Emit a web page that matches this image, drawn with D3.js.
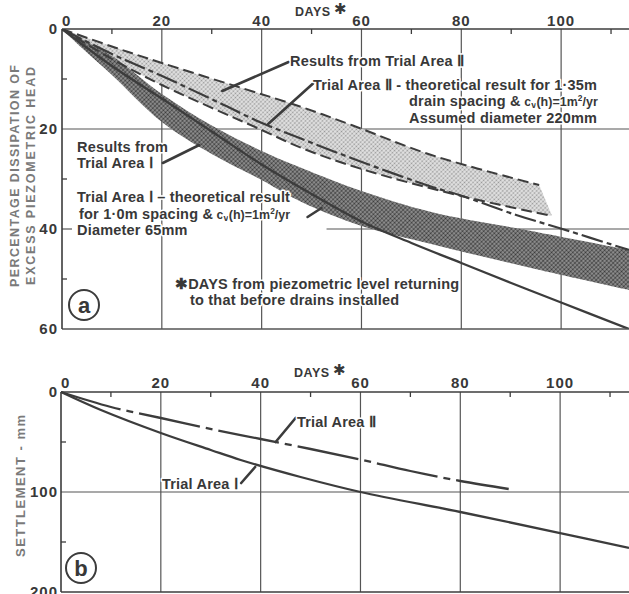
<!DOCTYPE html>
<html>
<head>
<meta charset="utf-8">
<script src="https://cdn.jsdelivr.net/npm/d3@7"></script>
<style>
  body { margin: 0; background: #fff; }
  svg { display: block; }
  text { font-family: "Liberation Sans", Arial, Helvetica, sans-serif; fill: #383838; }
</style>
</head>
<body>
<svg id="chart" width="629" height="594"></svg>
<script>
// ticks
const dayTicks = [0, 20, 40, 60, 80, 100]
const dayMinor = [10, 30, 50, 70, 90, 110]
const pctTicks = [0, 20, 40, 60]
const pctMinor = [10, 30, 50]
const settleTicks = [0, 100, 200]
const settleMinor = [50, 150]

// panel a : [days, % dissipation]
const areaIIUpper = [[0, 0], [10, 3.5], [20, 6.8], [36, 11.8], [48, 15.6], [58, 19.2], [74, 25.2], [95.6, 31.2]]
const areaIILower = [[0, 0], [10, 6], [20, 11.2], [40, 20.2], [48, 23.8], [60, 28], [80, 33.4], [98.2, 37.4]]
const theoryII = [[0, 0], [10, 5], [19.6, 9.2], [31.6, 14.8], [39.6, 18.6], [47.6, 21.8], [59, 26.2], [74.2, 31.6], [79.6, 33.2], [91, 37.2], [99.6, 39.8], [113.6, 44.2]]
const areaIUpper = [[0, 0], [10, 5.4], [20, 13], [30, 19.3], [40, 24.4], [48, 27.8], [60, 32.4], [74, 36.6], [94, 40.4], [113.6, 44.2]]
const areaILower = [[0, 0], [4, 3.8], [10, 9.2], [20, 18.6], [30, 25], [40, 30.2], [48, 34.6], [60, 39.4], [74, 43], [94, 47.8], [113.6, 52.2]]
const theoryI = [[0, 0], [10, 7.4], [20, 13.9], [30, 20.5], [40, 27.1], [50, 33], [60, 38.5], [70, 42.8], [80, 46.8], [90, 50.8], [100, 54.7], [113.6, 60]]

// panel b : [days, settlement mm]
const settleI = [[0, 0], [8, 18], [20, 41], [30, 58], [36, 68], [48, 85], [60, 100], [80, 120], [100, 141], [113.8, 156]]
const settleII = [[0, 0], [10, 15], [20, 26], [31, 38], [40, 47], [50, 57], [60, 67.5], [70, 79], [80, 89], [89.7, 97]]

const ink = "#3c3c3c"
const svg = d3.select("#chart")

const defs = svg.append("defs")
const light = defs.append("pattern").attr("id", "lightDots")
    .attr("width", 3).attr("height", 3).attr("patternUnits", "userSpaceOnUse")
    .attr("patternTransform", "rotate(45)")
light.append("rect").attr("width", 3).attr("height", 3).attr("fill", "#e4e4e4")
light.append("circle").attr("cx", 1.5).attr("cy", 1.5).attr("r", 0.9).attr("fill", "#969696")
const dark = defs.append("pattern").attr("id", "darkDots")
    .attr("width", 3).attr("height", 3).attr("patternUnits", "userSpaceOnUse")
    .attr("patternTransform", "rotate(45)")
dark.append("rect").attr("width", 3).attr("height", 3).attr("fill", "#9c9c9c")
dark.append("circle").attr("cx", 1.5).attr("cy", 1.5).attr("r", 1.15).attr("fill", "#383838")

const halo = sel => sel.attr("stroke", "#fff").attr("stroke-width", 3)
    .attr("paint-order", "stroke").attr("stroke-linejoin", "round")

// ---------- panel a ----------
const xa = d3.scaleLinear().domain([0, 113.6]).range([62, 629])
const ya = d3.scaleLinear().domain([0, 60]).range([29, 329])

defs.append("clipPath").attr("id", "clipA").append("rect")
    .attr("x", 62).attr("y", 29).attr("width", 567).attr("height", 300)

const ga = svg.append("g")

// grid
ga.selectAll(".vgrid").data(dayTicks.slice(1)).join("line")
    .attr("x1", d => xa(d)).attr("x2", d => xa(d)).attr("y1", ya(0)).attr("y2", ya(60))
    .attr("stroke", "#555").attr("stroke-width", 1.2)
ga.append("line").attr("x1", xa(0)).attr("x2", xa(113.6)).attr("y1", ya(20)).attr("y2", ya(20))
    .attr("stroke", "#555").attr("stroke-width", 1.2)
ga.append("line").attr("x1", xa(53)).attr("x2", xa(113.6)).attr("y1", ya(40)).attr("y2", ya(40))
    .attr("stroke", "#555").attr("stroke-width", 1.2)
ga.append("line").attr("x1", xa(0)).attr("x2", xa(2)).attr("y1", ya(40)).attr("y2", ya(40))
    .attr("stroke", "#555").attr("stroke-width", 1.2)

const lineA = d3.line().x(d => xa(d[0])).y(d => ya(d[1])).curve(d3.curveCatmullRom)
const band = (up, lo) => lineA(up) + lineA(lo.slice().reverse()).replace(/^M/, "L") + "Z"

const plotA = ga.append("g").attr("clip-path", "url(#clipA)")
plotA.append("path").attr("d", band(areaIIUpper, areaIILower)).attr("fill", "url(#lightDots)")
plotA.append("path").attr("d", band(areaIUpper, areaILower)).attr("fill", "url(#darkDots)")

plotA.append("path").attr("d", lineA(areaIIUpper)).attr("fill", "none")
    .attr("stroke", ink).attr("stroke-width", 2).attr("stroke-dasharray", "11,5")
plotA.append("path").attr("d", lineA(areaIILower)).attr("fill", "none")
    .attr("stroke", ink).attr("stroke-width", 2).attr("stroke-dasharray", "11,5")
plotA.append("path").attr("d", lineA(theoryII)).attr("fill", "none")
    .attr("stroke", ink).attr("stroke-width", 2.2).attr("stroke-dasharray", "22,4,5,4")
plotA.append("path").attr("d", lineA(theoryI)).attr("fill", "none")
    .attr("stroke", ink).attr("stroke-width", 2.3)

// axes
ga.append("line").attr("x1", xa(0)).attr("x2", xa(113.6)).attr("y1", ya(0)).attr("y2", ya(0))
    .attr("stroke", ink).attr("stroke-width", 1.6)
ga.append("line").attr("x1", xa(0)).attr("x2", xa(113.6)).attr("y1", ya(60)).attr("y2", ya(60))
    .attr("stroke", "#555").attr("stroke-width", 1.4)
ga.append("line").attr("x1", xa(0)).attr("x2", xa(0)).attr("y1", ya(0)).attr("y2", ya(60))
    .attr("stroke", ink).attr("stroke-width", 1.6)
ga.selectAll(".tmin").data(dayMinor).join("line")
    .attr("x1", d => xa(d)).attr("x2", d => xa(d)).attr("y1", ya(0)).attr("y2", ya(0) + 5)
    .attr("stroke", ink).attr("stroke-width", 1.3)
ga.selectAll(".lmin").data(pctMinor).join("line")
    .attr("x1", xa(0)).attr("x2", xa(0) + 5).attr("y1", d => ya(d)).attr("y2", d => ya(d))
    .attr("stroke", ink).attr("stroke-width", 1.3)

ga.selectAll(".tlab").data(dayTicks).join("text")
    .attr("x", d => xa(d)).attr("y", ya(0) - 3)
    .attr("text-anchor", d => d === 0 ? "start" : "middle")
    .attr("font-size", 15).attr("font-weight", "bold").attr("letter-spacing", 1)
    .text(d => d)
ga.selectAll(".llab").data(pctTicks).join("text")
    .attr("x", xa(0) - 4).attr("y", d => ya(d)).attr("dy", "0.36em")
    .attr("text-anchor", "end")
    .attr("font-size", 15).attr("font-weight", "bold").attr("letter-spacing", 1)
    .text(d => d)

// DAYS title
const daysTitle = (g, x, y) => {
    g.append("text").attr("x", x).attr("y", y).attr("font-size", 12.5).attr("font-weight", "bold")
        .attr("letter-spacing", 0.5).text("DAYS")
    g.append("text").attr("x", x + 39).attr("y", y - 2).attr("font-size", 15)
        .style("font-family", "DejaVu Sans").text("✱")
}
daysTitle(ga, 295, 16)

// y title
const ytA = ga.append("g").attr("transform", "translate(0,176) rotate(-90)")
ytA.append("text").attr("x", 0).attr("y", 19).attr("text-anchor", "middle")
    .attr("font-size", 12.5).attr("font-weight", "bold").style("fill", "#7a7a7a")
    .attr("textLength", 222).attr("lengthAdjust", "spacing").text("PERCENTAGE DISSIPATION OF")
ytA.append("text").attr("x", 0).attr("y", 35).attr("text-anchor", "middle")
    .attr("font-size", 12.5).attr("font-weight", "bold").style("fill", "#7a7a7a")
    .attr("textLength", 218).attr("lengthAdjust", "spacing").text("EXCESS PIEZOMETRIC HEAD")

// annotations panel a
const pointer = (g, x, y, p0, p1) => g.append("line")
    .attr("x1", x(p0[0])).attr("y1", y(p0[1])).attr("x2", x(p1[0])).attr("y2", y(p1[1]))
    .attr("stroke", ink).attr("stroke-width", 2.6).attr("stroke-linecap", "round")

pointer(ga, xa, ya, [45.4, 6.6], [32.1, 12.4])
pointer(ga, xa, ya, [50.3, 10.9], [41.3, 19])
pointer(ga, xa, ya, [20.2, 26.8], [27.5, 23.2])
pointer(ga, xa, ya, [49.2, 37.6], [52, 35.8])

// parts: plain text, or formula pieces (f), subscript (sub), superscript (sup)
const note = (g, x, y, parts) => {
    const t = g.append("text").attr("x", x).attr("y", y).attr("font-size", 14.5)
        .attr("font-weight", "bold").attr("letter-spacing", 0.2).call(halo)
    parts.forEach(p => {
        const s = t.append("tspan").text(p.t)
        if (p.f) s.attr("font-size", 12.5).attr("letter-spacing", 0)
        if (p.sub) s.attr("font-size", 9).attr("dy", 2)
        if (p.back) s.attr("dy", -2)
        if (p.sup) s.attr("font-size", 8.5).attr("dy", -5).attr("letter-spacing", 0)
        if (p.down) s.attr("dy", 5)
    })
    return t
}
const cvText = [{ t: " c", f: true }, { t: "v", sub: true }, { t: "(h)=1m", f: true, back: true },
    { t: "2", sup: true }, { t: "/yr", f: true, down: true }]

note(ga, 290, 66, [{ t: "Results from Trial Area Ⅱ" }])
note(ga, 313, 90, [{ t: "Trial Area Ⅱ - theoretical result for 1·35m" }])
note(ga, 409, 106, [{ t: "drain spacing &" }].concat(cvText))
note(ga, 409, 123, [{ t: "Assumed diameter 220mm" }])
note(ga, 77, 152, [{ t: "Results from" }])
note(ga, 77, 168, [{ t: "Trial Area Ⅰ" }])
note(ga, 77, 202, [{ t: "Trial Area Ⅰ – theoretical result" }])
note(ga, 79, 219, [{ t: "for 1·0m spacing &" }].concat(cvText))
note(ga, 77, 235, [{ t: "Diameter 65mm" }])
note(ga, 175, 289, [{ t: "✱" }, { t: "DAYS  from piezometric level returning" }])
note(ga, 190, 305, [{ t: "to that before drains installed" }])

const badge = (g, cx, cy, letter) => {
    g.append("circle").attr("cx", cx).attr("cy", cy).attr("r", 15).attr("fill", "#fff")
        .attr("stroke", ink).attr("stroke-width", 2)
    g.append("text").attr("x", cx).attr("y", cy).attr("dy", "0.35em").attr("text-anchor", "middle")
        .attr("font-size", 22).attr("font-weight", "bold").text(letter)
}
badge(ga, 84, 305, "a")

// ---------- panel b ----------
const xb = d3.scaleLinear().domain([0, 113.8]).range([61, 629])
const yb = d3.scaleLinear().domain([0, 200]).range([392, 592])
const gb = svg.append("g")

gb.selectAll(".vgrid").data(dayTicks.slice(1)).join("line")
    .attr("x1", d => xb(d)).attr("x2", d => xb(d)).attr("y1", yb(0)).attr("y2", yb(200))
    .attr("stroke", "#555").attr("stroke-width", 1.2)
gb.append("line").attr("x1", xb(0)).attr("x2", xb(113.8)).attr("y1", yb(100)).attr("y2", yb(100))
    .attr("stroke", "#555").attr("stroke-width", 1.2)

const lineB = d3.line().x(d => xb(d[0])).y(d => yb(d[1])).curve(d3.curveCatmullRom)
gb.append("path").attr("d", lineB(settleII)).attr("fill", "none")
    .attr("stroke", ink).attr("stroke-width", 2.3).attr("stroke-dasharray", "62,6,7,6")
gb.append("path").attr("d", lineB(settleI)).attr("fill", "none")
    .attr("stroke", ink).attr("stroke-width", 2.3)

gb.append("line").attr("x1", xb(0)).attr("x2", xb(113.8)).attr("y1", yb(0)).attr("y2", yb(0))
    .attr("stroke", ink).attr("stroke-width", 1.6)
gb.append("line").attr("x1", xb(0)).attr("x2", xb(113.8)).attr("y1", yb(200)).attr("y2", yb(200))
    .attr("stroke", ink).attr("stroke-width", 1.6)
gb.append("line").attr("x1", xb(0)).attr("x2", xb(0)).attr("y1", yb(0)).attr("y2", yb(200))
    .attr("stroke", ink).attr("stroke-width", 1.6)
gb.selectAll(".tmin").data(dayMinor).join("line")
    .attr("x1", d => xb(d)).attr("x2", d => xb(d)).attr("y1", yb(0)).attr("y2", yb(0) + 5)
    .attr("stroke", ink).attr("stroke-width", 1.3)
gb.selectAll(".lmin").data(settleMinor).join("line")
    .attr("x1", xb(0)).attr("x2", xb(0) + 5).attr("y1", d => yb(d)).attr("y2", d => yb(d))
    .attr("stroke", ink).attr("stroke-width", 1.3)

gb.selectAll(".tlab").data(dayTicks).join("text")
    .attr("x", d => xb(d)).attr("y", yb(0) - 4)
    .attr("text-anchor", d => d === 0 ? "start" : "middle")
    .attr("font-size", 15).attr("font-weight", "bold").attr("letter-spacing", 1)
    .text(d => d)
gb.selectAll(".llab").data(settleTicks).join("text")
    .attr("x", xb(0) - 3).attr("y", d => yb(d)).attr("dy", "0.36em")
    .attr("text-anchor", "end")
    .attr("font-size", 15).attr("font-weight", "bold").attr("letter-spacing", 1)
    .text(d => d)

daysTitle(gb, 294, 377)

gb.append("text").attr("transform", "translate(25,486) rotate(-90)").attr("text-anchor", "middle")
    .attr("font-size", 13).attr("font-weight", "bold").style("fill", "#7a7a7a")
    .attr("textLength", 142).attr("lengthAdjust", "spacing").text("SETTLEMENT - mm")

pointer(gb, xb, yb, [47, 26], [43, 50])
pointer(gb, xb, yb, [36.1, 91], [38.9, 75])
note(gb, 297, 427, [{ t: "Trial Area Ⅱ" }])
note(gb, 162, 489, [{ t: "Trial Area Ⅰ" }])

badge(gb, 81, 568, "b")
</script>
</body>
</html>
